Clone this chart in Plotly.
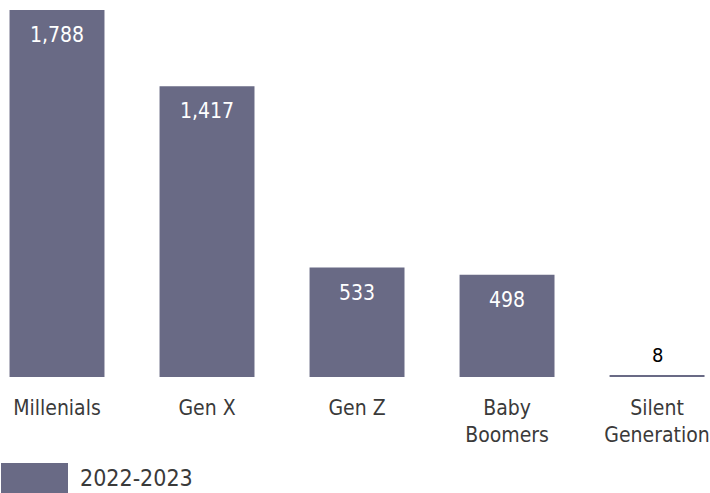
import plotly.graph_objects as go

categories = ["Millenials", "Gen X", "Gen Z", "Baby<br>Boomers", "Silent<br>Generation"]
values = [1788, 1417, 533, 498, 8]
series_name = "2022-2023"

BAR_COLOR = "#696a85"
FONT = "DejaVu Sans Condensed, DejaVu Sans, sans-serif"

fig = go.Figure()
fig.add_trace(go.Bar(
    x=categories, y=values, name=series_name,
    marker=dict(color=BAR_COLOR, line=dict(width=0)),
    width=0.633, showlegend=False, hoverinfo="skip",
))

annotations = []
for c, v in zip(categories, values):
    inside = v > 100
    annotations.append(dict(
        x=c, y=v, xref="x", yref="y",
        text=f"{v:,}", showarrow=False,
        yanchor="middle", xanchor="center",
        yshift=-25 if inside else 20,
        font=dict(family=FONT, size=21 if inside else 20,
                  color="#ffffff" if inside else "#000000"),
    ))

# legend (large swatch + label)
annotations.append(dict(
    x=78 / 710, y=-0.268, xref="paper", yref="paper",
    text=series_name, showarrow=False, xanchor="left", yanchor="middle",
    font=dict(family=FONT, size=23, color="#3a3a3a"),
))

fig.update_layout(
    template="none",
    width=710, height=493,
    margin=dict(l=0, r=0, t=0, b=116, autoexpand=False),
    paper_bgcolor="white", plot_bgcolor="white",
    annotations=annotations,
    shapes=[dict(type="rect", xref="paper", yref="paper",
                 x0=1 / 710, x1=68 / 710, y0=-0.31, y1=-0.228,
                 fillcolor=BAR_COLOR, line=dict(width=0))],
    xaxis=dict(range=[-0.38, 4.353], automargin=False, showgrid=False,
               zeroline=False, showline=False, ticks="", ticklabelstandoff=16,
               tickfont=dict(family=FONT, size=21, color="#3a3a3a")),
    yaxis=dict(range=[0, 1836.7], automargin=False, visible=False,
               showgrid=False, zeroline=False),
)

fig.write_html("out.html",
               config={"displayModeBar": False},
               post_script="document.body.style.margin='0';")
